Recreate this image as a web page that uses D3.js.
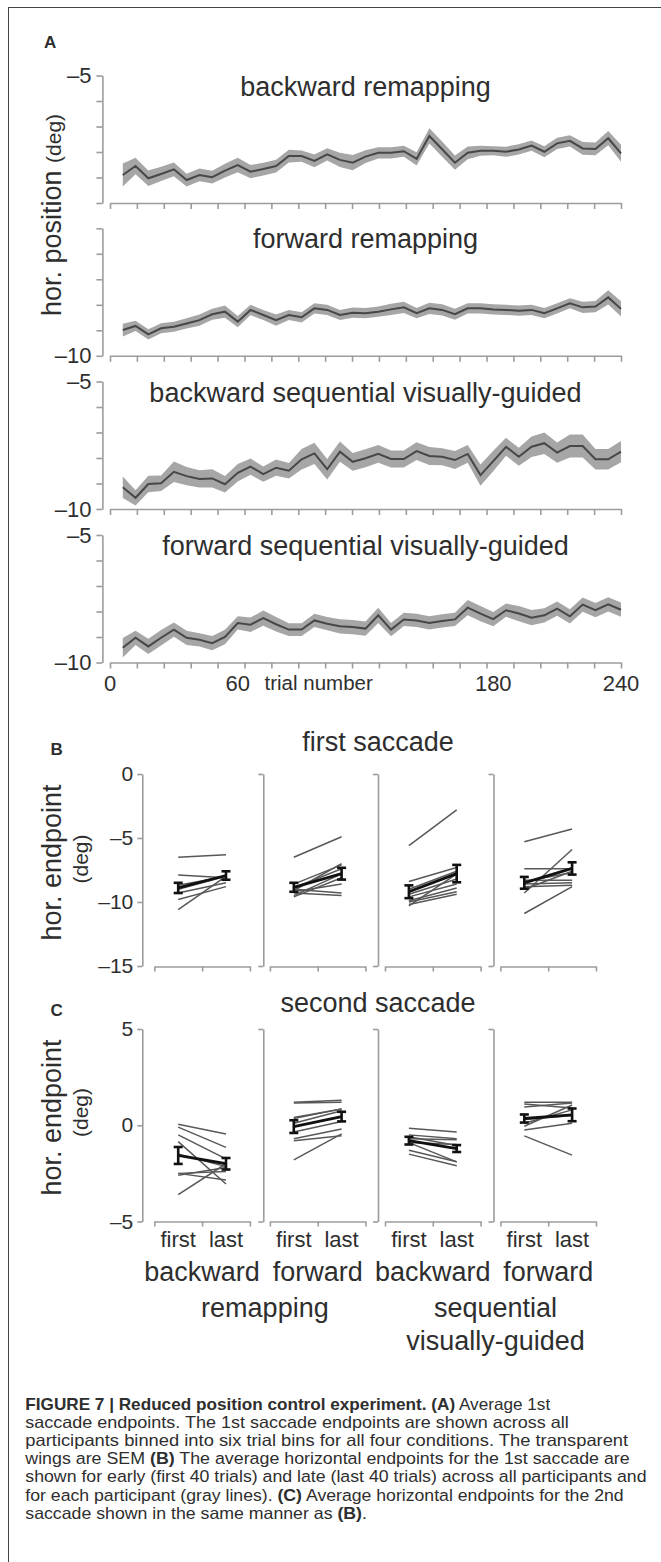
<!DOCTYPE html>
<html><head><meta charset="utf-8">
<script src="https://cdn.jsdelivr.net/npm/d3@7"></script>
<style>
body{margin:0;background:#fff}
svg{display:block}
text{font-family:"Liberation Sans",Arial,Helvetica,sans-serif;fill:#2e2e2e}
.ax .domain,.ax .tick line{stroke:#9c9c9c;stroke-width:1.6}
</style>
</head><body>
<svg id="fig" width="661" height="1562"></svg>
<script>
// ---------------- DATA ----------------
const trialBins = [6,12,18,24,30,36,42,48,54,60,66,72,78,84,90,96,102,108,114,120,126,132,138,144,150,156,162,168,174,180,186,192,198,204,210,216,222,228,234,240];
const conditionsA = ["backward remapping","forward remapping","backward sequential visually-guided","forward sequential visually-guided"];
const meanA1 = [-8.90,-8.55,-9.03,-8.86,-8.68,-9.10,-8.90,-8.99,-8.73,-8.51,-8.77,-8.67,-8.55,-8.16,-8.16,-8.35,-8.09,-8.31,-8.42,-8.18,-8.03,-8.03,-7.97,-8.27,-7.37,-7.89,-8.42,-8.03,-7.95,-7.95,-7.99,-7.90,-7.75,-7.99,-7.66,-7.56,-7.86,-7.88,-7.46,-8.05];
const semA1  = [0.45,0.32,0.30,0.28,0.27,0.25,0.25,0.25,0.27,0.28,0.26,0.25,0.25,0.25,0.22,0.25,0.24,0.28,0.30,0.25,0.22,0.22,0.22,0.26,0.30,0.30,0.28,0.25,0.20,0.18,0.20,0.20,0.20,0.22,0.22,0.22,0.25,0.25,0.28,0.33];
const meanA2 = [-8.99,-8.83,-9.16,-8.92,-8.86,-8.73,-8.60,-8.37,-8.27,-8.66,-8.20,-8.40,-8.60,-8.40,-8.49,-8.14,-8.20,-8.40,-8.31,-8.33,-8.27,-8.18,-8.10,-8.33,-8.14,-8.20,-8.37,-8.14,-8.14,-8.18,-8.20,-8.23,-8.20,-8.33,-8.14,-7.94,-8.10,-8.07,-7.71,-8.16];
const semA2  = [0.25,0.20,0.20,0.20,0.20,0.20,0.22,0.22,0.24,0.22,0.20,0.20,0.22,0.20,0.20,0.20,0.20,0.20,0.20,0.20,0.20,0.22,0.22,0.20,0.22,0.22,0.22,0.20,0.20,0.20,0.20,0.20,0.20,0.20,0.20,0.20,0.22,0.22,0.28,0.30];
const meanA3 = [-9.15,-9.56,-9.02,-8.99,-8.54,-8.71,-8.82,-8.80,-9.03,-8.58,-8.34,-8.63,-8.38,-8.50,-8.05,-7.82,-8.44,-7.75,-8.15,-8.01,-7.84,-8.04,-8.04,-7.73,-7.92,-7.95,-8.08,-7.84,-8.67,-8.12,-7.56,-7.95,-7.56,-7.42,-7.79,-7.53,-7.53,-8.05,-8.05,-7.75];
const semA3  = [0.42,0.30,0.32,0.30,0.40,0.36,0.34,0.36,0.32,0.34,0.32,0.30,0.32,0.30,0.40,0.42,0.40,0.40,0.35,0.35,0.35,0.33,0.33,0.35,0.35,0.33,0.35,0.35,0.42,0.40,0.35,0.35,0.40,0.42,0.40,0.45,0.45,0.40,0.40,0.42];
const meanA4 = [-9.42,-9.03,-9.37,-9.03,-8.71,-9.03,-9.11,-9.24,-9.00,-8.45,-8.52,-8.26,-8.50,-8.71,-8.71,-8.35,-8.48,-8.58,-8.61,-8.67,-8.15,-8.71,-8.31,-8.35,-8.45,-8.37,-8.31,-7.85,-8.08,-8.30,-7.95,-8.08,-8.24,-8.15,-7.89,-8.19,-7.73,-7.95,-7.72,-7.93];
const semA4  = [0.38,0.28,0.30,0.30,0.28,0.28,0.26,0.28,0.28,0.26,0.28,0.30,0.28,0.25,0.25,0.26,0.26,0.28,0.28,0.28,0.30,0.26,0.26,0.26,0.26,0.26,0.26,0.30,0.30,0.28,0.26,0.30,0.30,0.28,0.28,0.28,0.28,0.28,0.28,0.28];
const yTicksA = [-5,-6,-7,-8,-9,-10];
const yLabelsShownA = [[-5],[-10],[-5,-10],[-5,-10]];
const xTickLabelsA = [0,60,180,240];
const xTitleA = "trial number";

const groupNames = ["backward","forward","backward","forward"];
const pairNames = ["remapping",["sequential","visually-guided"]];
const phases = ["first","last"];

// Panel B: first saccade, per-participant endpoints (deg)
const bFirst = [
  [-6.5,-7.9,-8.7,-9.0,-9.8,-10.6,-9.3],
  [-6.5,-8.6,-8.9,-9.2,-9.5,-9.3,-9.0,-9.6,-9.1],
  [-5.6,-8.4,-9.0,-9.4,-9.6,-9.9,-10.0,-10.2,-10.3],
  [-5.3,-7.4,-9.3,-10.9,-8.3,-8.6,-9.0,-8.8,-8.4]
];
const bLast = [
  [-6.3,-8.1,-8.0,-8.0,-8.8,-8.0,-8.5],
  [-4.9,-7.1,-7.4,-8.6,-7.8,-9.5,-9.3,-8.1,-7.0],
  [-2.8,-7.3,-7.6,-8.2,-8.6,-8.9,-9.2,-9.4,-7.8],
  [-4.3,-7.4,-5.9,-8.8,-8.3,-8.5,-7.6,-8.7,-7.7]
];
const bMean = [[-8.90,-7.93],[-8.85,-7.79],[-9.20,-7.78],[-8.50,-7.38]];
const bSem  = [[0.40,0.33],[0.35,0.46],[0.50,0.68],[0.46,0.48]];
const yTicksB = [0,-5,-10,-15];

// Panel C: second saccade
const cFirst = [
  [0.05,-0.1,-0.5,-0.85,-1.5,-2.5,-2.5,-3.6,-2.6],
  [1.2,1.15,0.35,0.1,-0.35,-0.7,-0.8,-1.8,0.4],
  [-0.15,-0.5,-0.6,-0.7,-1.3,-1.5,-0.9,-0.9],
  [1.2,1.1,0.95,-0.25,-0.55,0.3,0.1,-0.05]
];
const cLast = [
  [-0.45,-1.15,-1.75,-3.05,-2.15,-2.4,-2.85,-2.0,-2.2],
  [1.3,1.2,0.85,0.75,0.2,-0.2,-0.55,-0.45,0.85],
  [-0.35,-0.7,-1.05,-0.75,-1.9,-2.1,-1.0,-1.9],
  [1.2,0.9,1.15,0.1,-1.55,0.5,0.8,1.05]
];
const cMean = [[-1.57,-2.00],[-0.07,0.45],[-0.80,-1.21],[0.35,0.54]];
const cSem  = [[0.44,0.30],[0.33,0.25],[0.20,0.18],[0.21,0.33]];
const yTicksC = [5,0,-5];

const captionLines = [
  [["FIGURE 7 | Reduced position control experiment. (A)",1],[" Average 1st",0]],
  [["saccade endpoints. The 1st saccade endpoints are shown across all",0]],
  [["participants binned into six trial bins for all four conditions. The transparent",0]],
  [["wings are SEM ",0],["(B)",1],[" The average horizontal endpoints for the 1st saccade are",0]],
  [["shown for early (first 40 trials) and late (last 40 trials) across all participants and",0]],
  [["for each participant (gray lines). ",0],["(C)",1],[" Average horizontal endpoints for the 2nd",0]],
  [["saccade shown in the same manner as ",0],["(B)",1],[".",0]]
];
const captionWidths = [525,544,603,605,622,599,342];

// ---------------- LAYOUT ----------------
const svg = d3.select("#fig");
const fmt = d => d < 0 ? "\u2013" + Math.abs(d) : String(d);
const FS_TITLE = 27, FS_TICK = 22;

// frame
svg.append("line").attr("x1",8).attr("x2",661).attr("y1",7.5).attr("y2",7.5).attr("stroke","#444").attr("stroke-width",1);
svg.append("line").attr("x1",8.5).attr("x2",8.5).attr("y1",7).attr("y2",1562).attr("stroke","#444").attr("stroke-width",1);

// ---------------- PANEL A ----------------
const meansA = [meanA1,meanA2,meanA3,meanA4];
const semsA = [semA1,semA2,semA3,semA4];
const topsA = [75.5,228.3,381.5,535];
const HA = 127.5;
const xA = d3.scaleLinear().domain([0,240]).range([110,621]);
const xTickValsA = d3.range(20).map(i => i*240/19);

svg.append("text").attr("x",44).attr("y",48).attr("font-size",17).attr("font-weight","bold").text("A");

conditionsA.forEach((name,p) => {
  const top = topsA[p];
  const yA = d3.scaleLinear().domain([-10,-5]).range([top+HA, top]);
  const pts = trialBins.map((t,i) => ({t, m: meansA[p][i], s: semsA[p][i]}));
  const g = svg.append("g");
  g.append("path").datum(pts)
    .attr("d", d3.area().x(d=>xA(d.t)).y0(d=>yA(d.m-d.s)).y1(d=>yA(d.m+d.s)))
    .attr("fill","#a6a6a6");
  g.append("path").datum(pts)
    .attr("d", d3.line().x(d=>xA(d.t)).y(d=>yA(d.m)))
    .attr("fill","none").attr("stroke","#474747").attr("stroke-width",2);
  const ya = g.append("g").attr("class","ax").attr("transform","translate(102.4,0)")
    .call(d3.axisLeft(yA).tickValues(yTicksA).tickSize(6).tickSizeOuter(0).tickPadding(5)
      .tickFormat(d => yLabelsShownA[p].includes(d) ? fmt(d) : ""));
  ya.selectAll("text").attr("font-size",FS_TICK).attr("font-family",null);
  g.append("g").attr("class","ax").attr("transform",`translate(0,${top+HA})`)
    .call(d3.axisBottom(xA).tickValues(xTickValsA).tickSize(6).tickSizeOuter(0).tickFormat(""));
  g.append("text").attr("x",(xA(0)+xA(240))/2).attr("y",top+20).attr("text-anchor","middle")
    .attr("font-size",FS_TITLE).text(name);
});
// x tick labels (bottom panel)
const xlab = svg.append("g");
xTickLabelsA.forEach(v => xlab.append("text").attr("x",xA(v)).attr("y",691).attr("text-anchor","middle")
  .attr("font-size",FS_TICK).text(v));
xlab.append("text").attr("x",xA(98)).attr("y",690).attr("text-anchor","middle").attr("font-size",20.5).text(xTitleA);
// y label A
svg.append("text").attr("transform","translate(61,215) rotate(-90)").attr("text-anchor","middle")
  .attr("font-size",FS_TITLE)
  .call(t => { t.append("tspan").text("hor. position "); t.append("tspan").attr("font-size",21).text("(deg)"); });

// ---------------- PANELS B & C ----------------
const axX = [142.3,263.3,378,493.5];
const brX = [154.3,269.9,385,500.4];
const brW = 95.6;

function drawPairs(opts){
  const {y, ticks, first, last, mean, sem, bottom} = opts;
  groupNames.forEach((gname,k) => {
    const xk = d3.scaleLinear().domain([0.5,2.5]).range([brX[k], brX[k]+brW]);
    const g = svg.append("g");
    const ax = g.append("g").attr("class","ax").attr("transform",`translate(${axX[k]},0)`);
    if(k===0){
      ax.call(d3.axisLeft(y).tickValues(ticks).tickSize(5).tickSizeOuter(0).tickPadding(4).tickFormat(fmt));
      ax.selectAll("text").attr("font-size",21).attr("font-family",null);
    } else {
      ax.call(d3.axisLeft(y).tickValues([ticks[0],ticks[ticks.length-1]]).tickSize(5).tickSizeOuter(0).tickFormat(""));
    }
    g.append("g").attr("class","ax").attr("transform",`translate(0,${bottom})`)
      .call(d3.axisBottom(xk).tickValues([0.5,1.5,2.5]).tickSize(5).tickSizeOuter(0).tickFormat(""));
    first[k].forEach((f,j) => {
      g.append("line").attr("x1",xk(1)).attr("x2",xk(2)).attr("y1",y(f)).attr("y2",y(last[k][j]))
        .attr("stroke","#585858").attr("stroke-width",1.5);
    });
    g.append("line").attr("x1",xk(1)).attr("x2",xk(2)).attr("y1",y(mean[k][0])).attr("y2",y(mean[k][1]))
      .attr("stroke","#111").attr("stroke-width",2.8);
    [1,2].forEach((xi,i) => {
      const m = mean[k][i], s = sem[k][i], cx = xk(xi);
      g.append("line").attr("x1",cx).attr("x2",cx).attr("y1",y(m-s)).attr("y2",y(m+s)).attr("stroke","#111").attr("stroke-width",2.6);
      [m-s,m+s].forEach(v => g.append("line").attr("x1",cx-4.5).attr("x2",cx+4.5).attr("y1",y(v)).attr("y2",y(v))
        .attr("stroke","#111").attr("stroke-width",2.6));
    });
  });
}

// B
const yB = d3.scaleLinear().domain([-15,0]).range([966,774]);
svg.append("text").attr("x",50.5).attr("y",755).attr("font-size",17).attr("font-weight","bold").text("B");
svg.append("text").attr("x",378).attr("y",751).attr("text-anchor","middle").attr("font-size",FS_TITLE).text("first saccade");
drawPairs({y:yB, ticks:yTicksB, first:bFirst, last:bLast, mean:bMean, sem:bSem, bottom:966.5});
svg.append("text").attr("transform","translate(61,862.5) rotate(-90)").attr("text-anchor","middle").attr("font-size",FS_TITLE).text("hor. endpoint");
svg.append("text").attr("transform","translate(88,859) rotate(-90)").attr("text-anchor","middle").attr("font-size",21).text("(deg)");

// C
const yC = d3.scaleLinear().domain([-5,5]).range([1221.5,1029]);
svg.append("text").attr("x",50.5).attr("y",1016).attr("font-size",17).attr("font-weight","bold").text("C");
svg.append("text").attr("x",378).attr("y",1012).attr("text-anchor","middle").attr("font-size",FS_TITLE).text("second saccade");
drawPairs({y:yC, ticks:yTicksC, first:cFirst, last:cLast, mean:cMean, sem:cSem, bottom:1221.5});
svg.append("text").attr("transform","translate(61,1117.5) rotate(-90)").attr("text-anchor","middle").attr("font-size",FS_TITLE).text("hor. endpoint");
svg.append("text").attr("transform","translate(88,1112.5) rotate(-90)").attr("text-anchor","middle").attr("font-size",21).text("(deg)");

// category labels under C
const centers = [];
groupNames.forEach((gname,k) => {
  const xk = d3.scaleLinear().domain([0.5,2.5]).range([brX[k], brX[k]+brW]);
  centers.push(xk(1.5));
  phases.forEach((ph,i) => svg.append("text").attr("x",xk(i+1)).attr("y",1247).attr("text-anchor","middle").attr("font-size",22).text(ph));
  svg.append("text").attr("x",xk(1.5)).attr("y",1281).attr("text-anchor","middle").attr("font-size",FS_TITLE).text(gname);
});
svg.append("text").attr("x",(centers[0]+centers[1])/2+5).attr("y",1317).attr("text-anchor","middle").attr("font-size",FS_TITLE).text(pairNames[0]);
svg.append("text").attr("x",(centers[2]+centers[3])/2+5).attr("y",1317).attr("text-anchor","middle").attr("font-size",FS_TITLE).text(pairNames[1][0]);
svg.append("text").attr("x",(centers[2]+centers[3])/2+5).attr("y",1350).attr("text-anchor","middle").attr("font-size",FS_TITLE).text(pairNames[1][1]);

// ---------------- CAPTION ----------------
captionLines.forEach((parts,i) => {
  const y = 1410 + i*18.1;
  const t = svg.append("text").attr("font-size",16.5).attr("fill","#333");
  parts.forEach(([s,b]) => t.append("tspan").attr("font-weight", b ? "bold" : null).text(s));
  const len = t.node().getComputedTextLength();
  const sx = captionWidths[i] / len;
  t.attr("transform",`translate(25.3,${y}) scale(${sx},1)`);
});
</script>
</body></html>
